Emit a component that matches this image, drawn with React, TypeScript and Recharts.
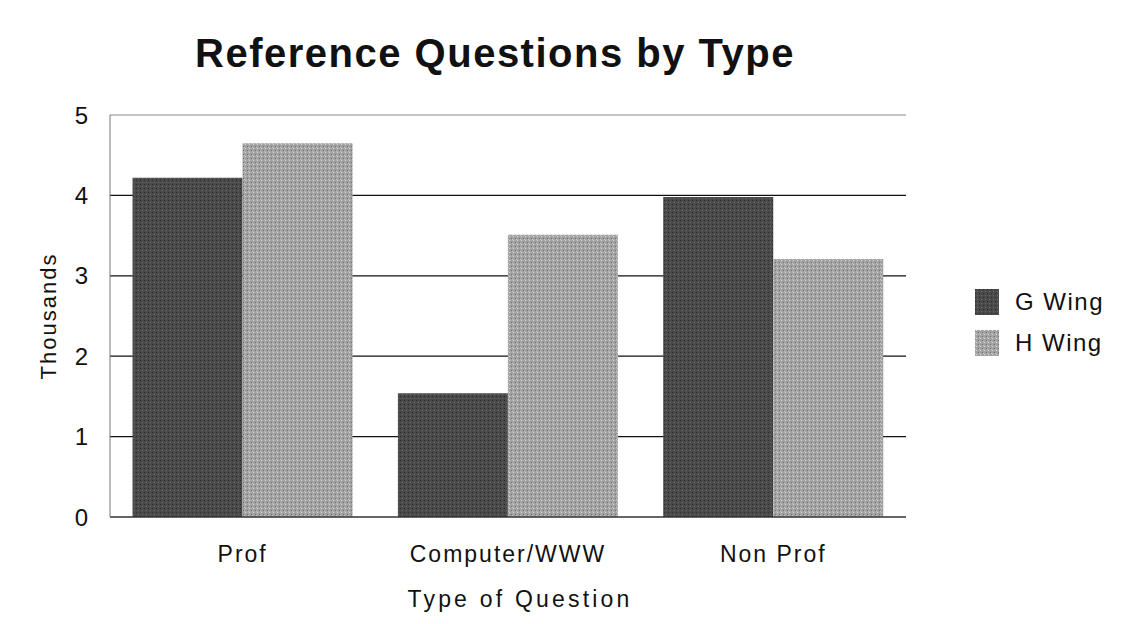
import React from "react";
import {
  BarChart,
  Bar,
  XAxis,
  YAxis,
  CartesianGrid,
  ReferenceLine,
} from "recharts";

const categories = ["Prof", "Computer/WWW", "Non Prof"];
const gWing = [4.22, 1.54, 3.98];
const hWing = [4.65, 3.51, 3.21];
const yTicks = [0, 1, 2, 3, 4, 5];
const gridLines = [1, 2, 3, 4];

const data = categories.map((type, i) => ({
  type,
  g: gWing[i],
  h: hWing[i],
}));

const FONT = "'Liberation Sans', Arial, sans-serif";

const legendItems = [
  { name: "G Wing", fill: "url(#gTex)" },
  { name: "H Wing", fill: "url(#hTex)" },
];

const LegendBox = () => (
  <div
    style={{
      position: "absolute",
      left: 967,
      top: 273,
      fontSize: 24,
      letterSpacing: 1.5,
      color: "#111",
    }}
  >
    {legendItems.map((it) => (
      <div
        key={it.name}
        style={{ display: "flex", alignItems: "center", height: 41 }}
      >
        <svg width={24} height={26} style={{ marginRight: 16 }}>
          <rect width={24} height={26} fill={it.fill} />
        </svg>
        {it.name}
      </div>
    ))}
  </div>
);

export default function App() {
  return (
    <div
      style={{
        position: "relative",
        width: 1130,
        height: 608,
        fontFamily: FONT,
      }}
    >
      <div
        style={{
          position: "absolute",
          left: -2,
          top: -3,
          width: 1132,
          height: 612,
          borderTop: "1px solid #999",
          borderLeft: "1px solid #999",
          borderRight: "1px solid #999",
        }}
      />
      <svg width={0} height={0} style={{ position: "absolute" }}>
        <defs>
          <pattern id="gTex" width="4" height="4" patternUnits="userSpaceOnUse">
            <rect width="4" height="4" fill="#4a4a4a" />
            <rect x="0" y="0" width="1" height="1" fill="#2a2a2a" />
            <rect x="2" y="2" width="1" height="1" fill="#6a6a6a" />
          </pattern>
          <pattern id="hTex" width="4" height="4" patternUnits="userSpaceOnUse">
            <rect width="4" height="4" fill="#a2a2a2" />
            <rect x="1" y="0" width="1" height="1" fill="#d8d8d8" />
            <rect x="3" y="2" width="1" height="1" fill="#6e6e6e" />
            <rect x="0" y="3" width="1" height="1" fill="#c4c4c4" />
          </pattern>
        </defs>
      </svg>
      <BarChart
        width={1130}
        height={608}
        data={data}
        margin={{ top: 107, right: 232, left: 0, bottom: 65 }}
        barCategoryGap="8.5%"
        barGap={0}
      >
        <CartesianGrid
          vertical={false}
          horizontalValues={gridLines}
          stroke="#111"
          strokeWidth={1.2}
        />
        <XAxis
          dataKey="type"
          tickLine={false}
          axisLine={{ stroke: "#333", strokeWidth: 1.5 }}
          tick={{ fill: "#111", fontSize: 23, fontFamily: FONT, letterSpacing: 2 }}
          tickMargin={23}
          height={34}
        />
        <YAxis
          domain={[0, 5]}
          ticks={yTicks}
          interval={0}
          tickLine={false}
          axisLine={{ stroke: "#777" }}
          tick={{ fill: "#111", fontSize: 24, fontFamily: FONT }}
          tickMargin={16}
          width={102}
          label={{
            value: "Thousands",
            angle: -90,
            position: "insideLeft",
            offset: 40,
            style: {
              fill: "#111",
              fontSize: 22,
              fontFamily: FONT,
              letterSpacing: 2,
              textAnchor: "middle",
            },
          }}
        />
        <YAxis
          yAxisId="r"
          orientation="right"
          domain={[0, 5]}
          tick={false}
          tickLine={false}
          axisLine={{ stroke: "#777" }}
          width={0}
        />
        <ReferenceLine y={5} stroke="#888" />
        <Bar dataKey="g" name="G Wing" fill="url(#gTex)" isAnimationActive={false} />
        <Bar dataKey="h" name="H Wing" fill="url(#hTex)" isAnimationActive={false} />
      </BarChart>
      <div
        style={{
          position: "absolute",
          left: 0,
          width: 974,
          top: 25,
          lineHeight: 1,
          textAlign: "center",
          fontSize: 40,
          fontWeight: "bold",
          letterSpacing: 1.5,
          color: "#111",
        }}
      >
        Reference Questions by Type
      </div>
      <div
        style={{
          position: "absolute",
          left: 0,
          width: 1024,
          top: 580,
          lineHeight: 1,
          textAlign: "center",
          fontSize: 23,
          letterSpacing: 3.2,
          color: "#111",
        }}
      >
        Type of Question
      </div>
      <LegendBox />
    </div>
  );
}
